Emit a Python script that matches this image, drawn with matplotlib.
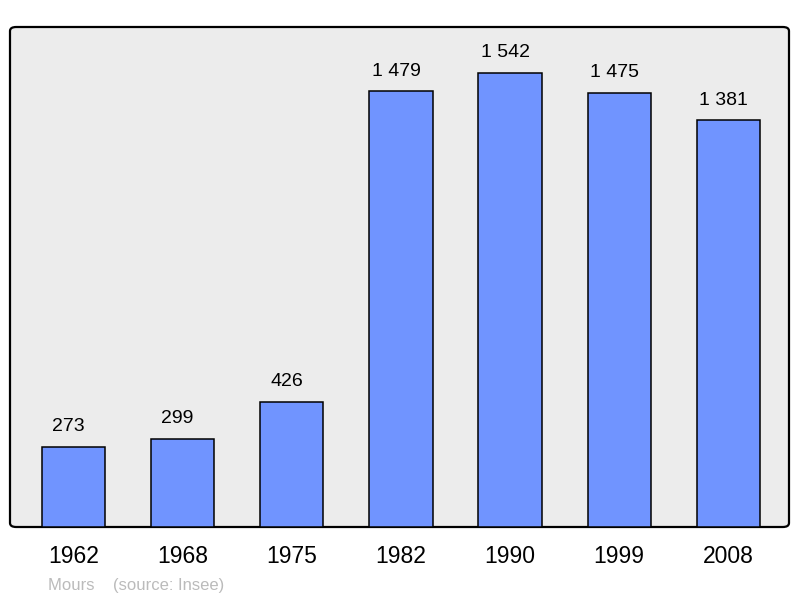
import matplotlib
matplotlib.use("Agg")
import matplotlib.pyplot as plt
from matplotlib.patches import FancyBboxPatch

years = ["1962", "1968", "1975", "1982", "1990", "1999", "2008"]
population = [273, 299, 426, 1479, 1542, 1475, 1381]
labels = ["273", "299", "426", "1 479", "1 542", "1 475", "1 381"]

plt.rcParams['font.family'] = ['Liberation Sans', 'DejaVu Sans']

fig = plt.figure(figsize=(8, 5.98), dpi=100)
ax = fig.add_axes([10/800, 1 - 527/598, 779/800, 500/598])
ax.set_facecolor('none')

# rounded background box
box = FancyBboxPatch((0, 0), 1, 1, boxstyle="round,pad=0,rounding_size=0.008",
                     transform=ax.transAxes, facecolor='#ececec', edgecolor='black',
                     linewidth=1.6, zorder=0, clip_on=False)
ax.add_patch(box)

x = range(len(years))
ax.bar(x, population, width=0.58, color='#7094ff', edgecolor='black', linewidth=1.1, zorder=2)
for i, (v, t) in enumerate(zip(population, labels)):
    ax.annotate(t, (i, v), xytext=(-3.5, 8.5), textcoords='offset points',
                ha='center', va='bottom', fontsize=14)

ax.set_xlim(-0.58, 6.555)
ax.set_ylim(0, 1698)
for s in ax.spines.values():
    s.set_visible(False)
ax.set_yticks([])
ax.set_xticks(list(x))
ax.set_xticklabels(years, fontsize=16.5)
ax.tick_params(axis='x', length=0, pad=13)

fig.text(48/800, 1 - 590/598, "Mours    (source: Insee)", color='#bbbbbb', fontsize=12)

fig.savefig("out.png", dpi=100)
